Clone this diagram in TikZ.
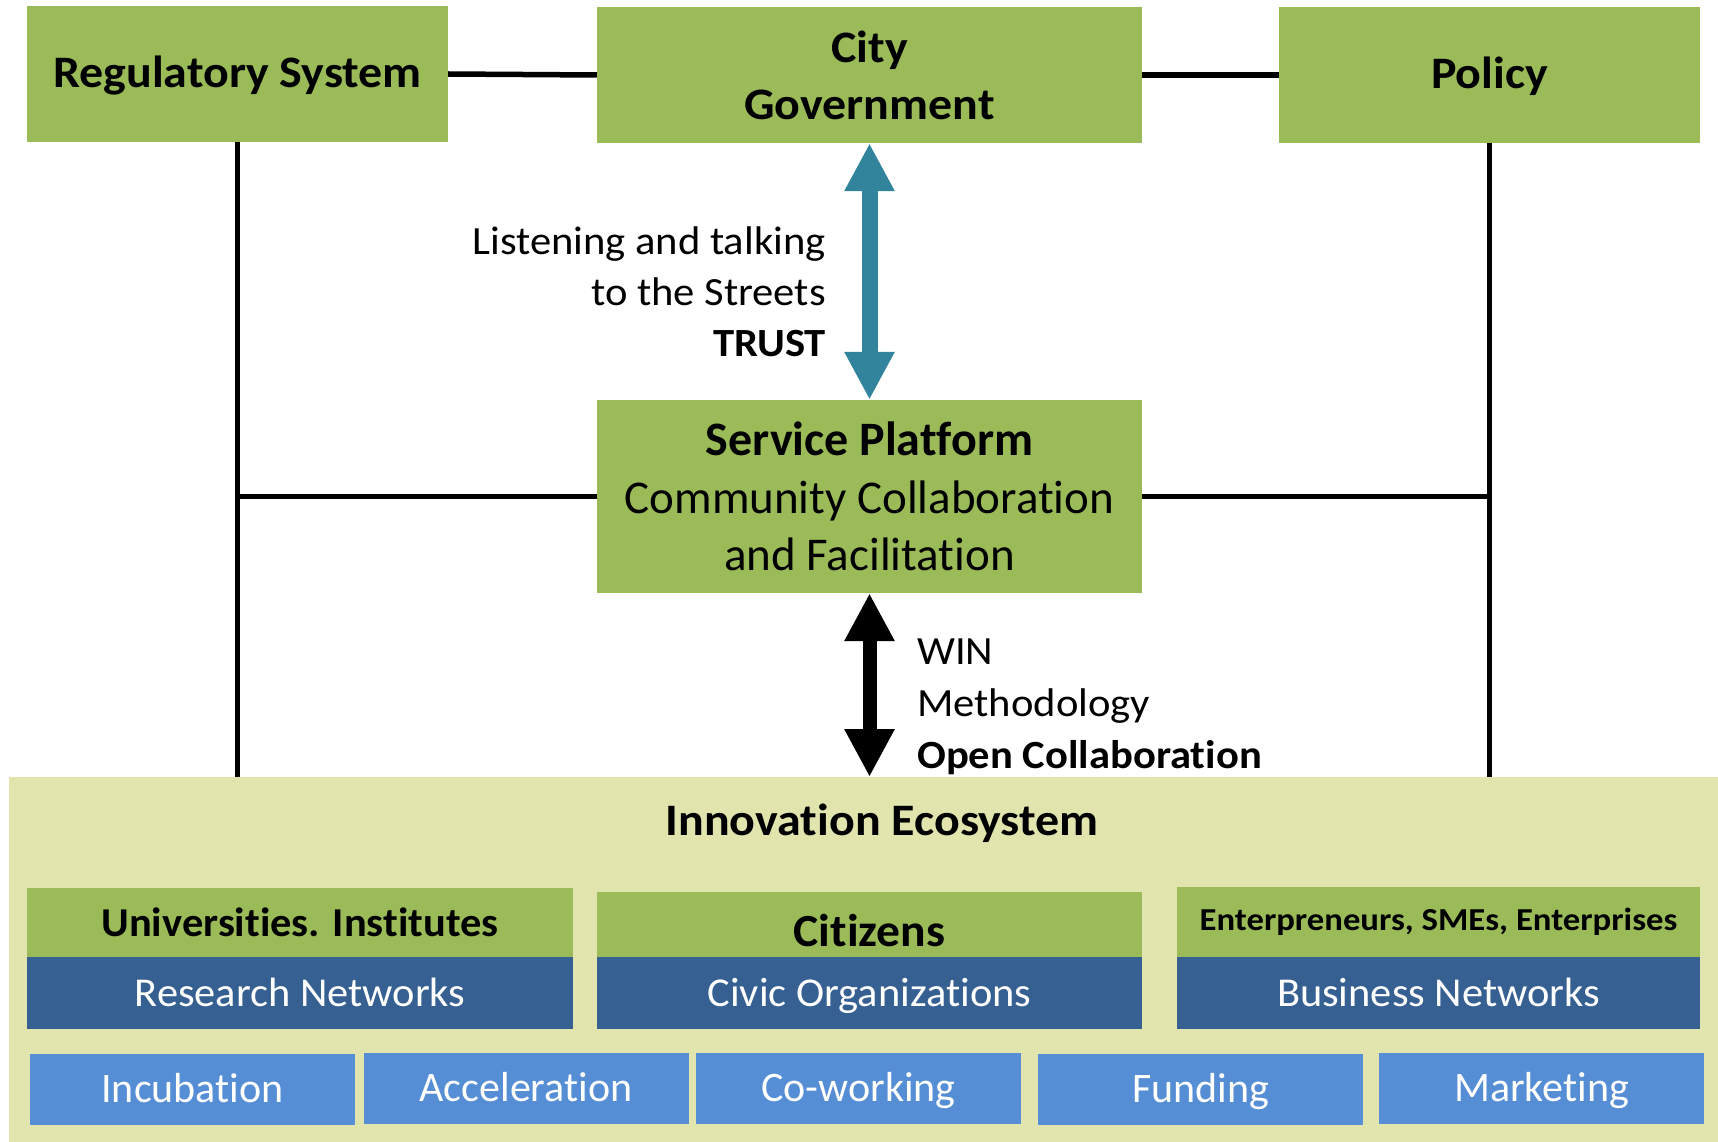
\documentclass[tikz,border=0pt]{standalone}
\usepackage{fontspec}
\setmainfont{Carlito}[Ligatures=NoCommon]
\newfontfamily\widefont{Carlito}[Ligatures=NoCommon, FakeStretch=1.065]
\newfontfamily\midfont{Carlito}[Ligatures=NoCommon, FakeStretch=1.035]
\newfontfamily\entfont{Carlito}[Ligatures=NoCommon, FakeStretch=1.085]
\usetikzlibrary{arrows.meta}
\definecolor{leafgreen}{HTML}{9BBB59}
\definecolor{ecoyellow}{HTML}{E1E5AD}
\definecolor{navyblue}{HTML}{366092}
\definecolor{skyblue}{HTML}{558ED5}
\definecolor{streetteal}{HTML}{31849B}
\newcommand{\fsz}[2]{\fontsize{#1}{#2}\selectfont}

\begin{document}
\begin{tikzpicture}[x=1pt, y=-1pt,
    box/.style={rectangle, inner sep=0pt, align=center},
    greenbox/.style={box, fill=leafgreen},
    topbox/.style={greenbox, minimum height=136pt, text height=28pt, text depth=0pt, font=\widefont\bfseries\fsz{45}{57}},
    bluebox/.style={box, fill=navyblue, text=white, minimum height=72pt, text height=26pt, text depth=0pt, font=\midfont\fsz{41}{49}},
    servicebox/.style={box, fill=skyblue, text=white, minimum width=325pt, minimum height=71pt, text height=26.5pt, text depth=0pt, font=\fsz{42}{50}},
    link/.style={line width=5.5pt},
    twoway/.style={line width=#1, {Triangle[length=48pt,width=47pt]}-{Triangle[length=48pt,width=47pt]}}]
    \useasboundingbox (0,0) rectangle (1718,1142);

    % Ecosystem background
    \node[box, fill=ecoyellow, anchor=north west, minimum width=1709pt, minimum height=365pt] (eco) at (9,777) {};

    % Top row
    \node[topbox, minimum width=421pt] (reg) at (237.5,74) {Regulatory System};
    \node[greenbox, minimum width=545pt, minimum height=136pt, font=\widefont\bfseries\fsz{45}{57}] (gov) at (869.5,75) {City\\Government};
    \node[topbox, minimum width=421pt] (pol) at (1489.5,75) {Policy};

    % Service platform
    \node[greenbox, minimum width=545pt, minimum height=193pt, font=\fsz{47}{57.5}] (sp) at (869.5,496.5)
        {{\bfseries\fsz{48}{57.5}Service Platform}\\Community Collaboration\\and Facilitation};

    % Connecting lines
    \draw[link] (reg.east) -- (gov.west);
    \draw[link] (gov.east) -- (pol.west);
    \draw[link] (reg.south) -- (reg.south |- eco.north);
    \draw[link] (pol.south) -- (pol.south |- eco.north);
    \draw[link] (sp.west) -- (reg.south |- sp.west);
    \draw[link] (sp.east) -- (pol.south |- sp.east);

    % Two-way arrows
    \draw[twoway=16pt, streetteal] (gov.south) -- (sp.north);
    \draw[twoway=14pt, black] (sp.south) -- (sp.south |- eco.north);

    \node[anchor=east, align=right, inner sep=0pt, font=\widefont\fsz{40}{51}] (streets) at (826,292)
        {Listening and talking\\to the Streets\\\textbf{TRUST}};
    \node[anchor=west, align=left, inner sep=0pt, font=\widefont\fsz{40}{52}] (win) at (917,706.5)
        {WIN\\Methodology\\\textbf{Open Collaboration}};

    % Innovation ecosystem
    \node[font=\widefont\bfseries\fsz{45}{54}] (ecotitle) at (882,823) {Innovation Ecosystem};

    \node[greenbox, minimum width=546pt, minimum height=69pt, font=\midfont\bfseries\fsz{41}{49}] (uni) at (300,922.5) {Universities. Institutes};
    \node[bluebox, minimum width=546pt] (research) at (300,993) {Research Networks};
    \node[greenbox, minimum width=545pt, minimum height=65pt, text height=43pt, text depth=0pt, font=\midfont\bfseries\fsz{46}{55}] (cit) at (869.5,924.5) {Citizens};
    \node[bluebox, minimum width=545pt] (civic) at (869.5,993) {Civic Organizations};
    \node[greenbox, minimum width=523pt, minimum height=70pt, font=\entfont\bfseries\fsz{32}{38}] (ent) at (1438.5,922) {Enterpreneurs, SMEs, Enterprises};
    \node[bluebox, minimum width=523pt] (business) at (1438.5,993) {Business Networks};

    \foreach \name/\cx/\cy/\txt in {inc/192.5/1089.5/Incubation, acc/526/1088/Acceleration,
        cow/858.5/1088/Co-working, fun/1200.5/1089.5/Funding, mar/1541.5/1088/Marketing}
        \node[servicebox] (\name) at (\cx,\cy) {\txt};
\end{tikzpicture}
\end{document}
